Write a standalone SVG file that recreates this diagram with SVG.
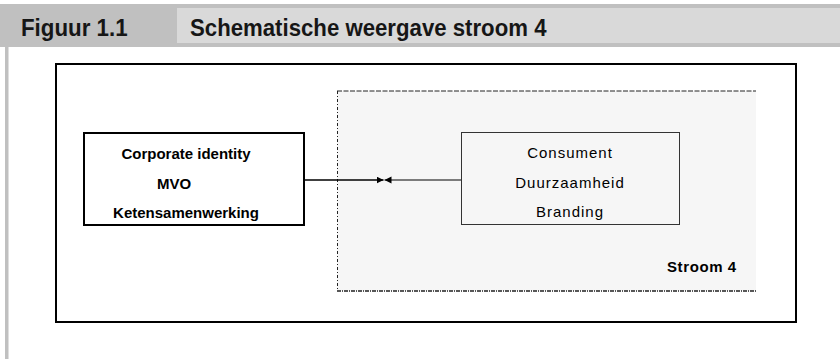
<svg xmlns="http://www.w3.org/2000/svg" width="840" height="359" viewBox="0 0 840 359">
<style>
.hdr{font-family:"Liberation Sans",Arial,sans-serif;font-weight:bold;font-size:24px;fill:#161616}
.bold{font-family:"Liberation Sans",Arial,sans-serif;font-weight:bold;font-size:15px;fill:#000;text-anchor:middle}
.reg{font-family:"Liberation Sans",Arial,sans-serif;font-size:15px;fill:#000;text-anchor:middle;letter-spacing:1px}
.conn{stroke:#000;fill:none}
</style>
<defs>
<marker id="arr" markerUnits="userSpaceOnUse" markerWidth="8" markerHeight="8" refX="7" refY="3.5" orient="auto">
<path d="M0,0 L7,3.5 L0,7 z" fill="#000"/>
</marker>
</defs>
<rect width="840" height="359" fill="#fff"/>
<g id="header">
<rect x="0" y="4" width="840" height="43" fill="#c0c0c0"/>
<rect x="177" y="8" width="663" height="35" fill="#d9d9d9"/>
<rect x="5" y="47" width="3.5" height="312" fill="#c0c0c0"/>
<text class="hdr" transform="translate(21,36) scale(0.93,1)">Figuur 1.1</text>
<text class="hdr" transform="translate(190,36) scale(0.925,1)">Schematische weergave stroom 4</text>
</g>
<g id="frame">
<rect x="56" y="64" width="740" height="258" fill="none" stroke="#000" stroke-width="2"/>
</g>
<g id="stroom4">
<rect x="337" y="91" width="419" height="200" fill="#f6f6f6"/>
<line x1="337" y1="91" x2="756" y2="91" stroke="#222" stroke-width="1" stroke-dasharray="5,1.5"/>
<line x1="337.5" y1="91" x2="337.5" y2="291" stroke="#222" stroke-width="1" stroke-dasharray="3,2,1,2"/>
<line x1="337" y1="291" x2="756" y2="291" stroke="#222" stroke-width="1.5" stroke-dasharray="4,1,1,1"/>
<text x="667" y="272" font-family="Liberation Sans, Arial, sans-serif" font-weight="bold" font-size="15" letter-spacing="0.6" fill="#000">Stroom 4</text>
</g>
<g id="connectors">
<line class="conn" x1="304" y1="180" x2="383.5" y2="180" stroke-width="1.5" marker-end="url(#arr)"/>
<line class="conn" x1="461" y1="180" x2="384.5" y2="180" stroke-width="1" marker-end="url(#arr)"/>
</g>
<g id="node-left">
<rect x="84" y="133" width="220" height="92" fill="#fff" stroke="#000" stroke-width="2"/>
<text class="bold" x="186" y="159">Corporate identity</text>
<text class="bold" x="174" y="189">MVO</text>
<text class="bold" x="186" y="218">Ketensamenwerking</text>
</g>
<g id="node-right">
<rect x="461.5" y="132.5" width="218" height="92" fill="#f6f6f6" stroke="#333" stroke-width="1"/>
<text class="reg" x="570" y="158">Consument</text>
<text class="reg" x="570" y="188">Duurzaamheid</text>
<text class="reg" x="570" y="217">Branding</text>
</g>
</svg>
